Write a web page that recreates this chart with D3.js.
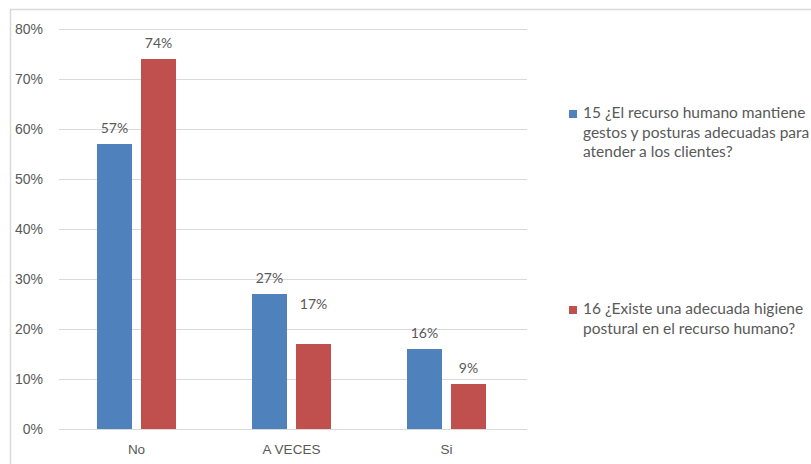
<!DOCTYPE html>
<html>
<head>
<meta charset="utf-8">
<script src="https://cdn.jsdelivr.net/npm/d3@7/dist/d3.min.js"></script>
<style>
  html, body { margin: 0; padding: 0; background: #fff; }
  svg { display: block; font-family: Lato, "Open Sans", sans-serif; }
</style>
</head>
<body>
<svg id="chart" width="811" height="464"></svg>
<script>
// Survey answers per category, in percent
const categories = ["No", "A VECES", "Si"];
const serie15 = [57, 27, 16];
const serie16 = [74, 17, 9];
const yTicks = [0, 10, 20, 30, 40, 50, 60, 70, 80];
const legendLines = [
  ["15 ¿El recurso humano mantiene", "gestos y posturas adecuadas para", "atender a los clientes?"],
  ["16 ¿Existe una adecuada higiene", "postural en el recurso humano?"]
];

const colors = ["#4f81bd", "#c0504d"];
const textColor = "#595959";
const gridColor = "#d9d9d9";

const svg = d3.select("#chart");
const W = 811, H = 464;

// outer frame (only top and left edges fall inside the page)
svg.append("path")
  .attr("d", `M10.5,${H} L10.5,9.5 L${W},9.5`)
  .attr("fill", "none")
  .attr("stroke", gridColor)
  .attr("stroke-width", 1.5);

const x0 = d3.scaleBand().domain(categories).range([59, 524]);
const x1 = d3.scaleBand().domain([0, 1])
  .range([x0.bandwidth() / 2 - 39.5, x0.bandwidth() / 2 + 39.5])
  .paddingInner(0.205);
const y = d3.scaleLinear().domain([0, 80]).range([429, 29]);

// gridlines
svg.append("g").selectAll("line").data(yTicks).join("line")
  .attr("x1", 59).attr("x2", 527)
  .attr("y1", d => Math.round(y(d)) + 0.5)
  .attr("y2", d => Math.round(y(d)) + 0.5)
  .attr("stroke", gridColor)
  .attr("stroke-width", 1);

// y axis labels
const yAxis = d3.axisLeft(y).tickValues(yTicks).tickFormat(d => d + "%").tickSize(0).tickPadding(0);
const yg = svg.append("g").attr("transform", "translate(43,0)").call(yAxis);
yg.select(".domain").remove();
yg.selectAll("text")
  .attr("fill", textColor)
  .style("font-size", "14px");

// x axis labels
const xAxis = d3.axisBottom(x0).tickSize(0).tickPadding(0);
const xg = svg.append("g").attr("transform", "translate(0,441)").call(xAxis);
xg.select(".domain").remove();
xg.selectAll("text")
  .attr("fill", textColor)
  .attr("dy", "0.95em")
  .style("font-size", "13.5px");

// bars
const series = [serie15, serie16];
const rows = [];
categories.forEach((c, i) => {
  series.forEach((s, k) => rows.push({ cat: c, k, v: s[i] }));
});

svg.append("g").selectAll("rect").data(rows).join("rect")
  .attr("x", d => x0(d.cat) + x1(d.k))
  .attr("y", d => y(d.v))
  .attr("width", x1.bandwidth())
  .attr("height", d => y(0) - y(d.v))
  .attr("fill", d => colors[d.k]);

// data labels; the red "A VECES" label sits higher than the rest
const labelLift = { "A VECES|1": 24 };
svg.append("g").selectAll("text").data(rows).join("text")
  .attr("x", d => x0(d.cat) + x1(d.k) + x1.bandwidth() / 2)
  .attr("y", d => y(d.v) - 11 - (labelLift[d.cat + "|" + d.k] || 0))
  .attr("text-anchor", "middle")
  .attr("fill", textColor)
  .style("font-size", "14px")
  .text(d => d.v + "%");

// baseline
svg.append("line")
  .attr("x1", 59).attr("x2", 527)
  .attr("y1", 429.5).attr("y2", 429.5)
  .attr("stroke", gridColor);

// legend: text is spaced out slightly so the first line spans ~206px
const legendFont = 15.5;
const probe = svg.append("text").style("font-size", legendFont + "px").text(legendLines[0][0]);
const probeW = probe.node().getComputedTextLength();
probe.remove();
const spacing = Math.max(0, (206 - probeW) / legendLines[0][0].length);

const legendTop = [118, 314];
const lineStep = 19.5;
legendLines.forEach((lines, k) => {
  const g = svg.append("g");
  g.append("rect")
    .attr("x", 569).attr("y", legendTop[k] - 8)
    .attr("width", 8).attr("height", 8)
    .attr("fill", colors[k]);
  g.append("text")
    .attr("fill", textColor)
    .style("font-size", legendFont + "px")
    .style("letter-spacing", spacing + "px")
    .selectAll("tspan").data(lines).join("tspan")
    .attr("x", 583)
    .attr("y", (d, i) => legendTop[k] + i * lineStep)
    .text(d => d);
});
</script>
</body>
</html>
